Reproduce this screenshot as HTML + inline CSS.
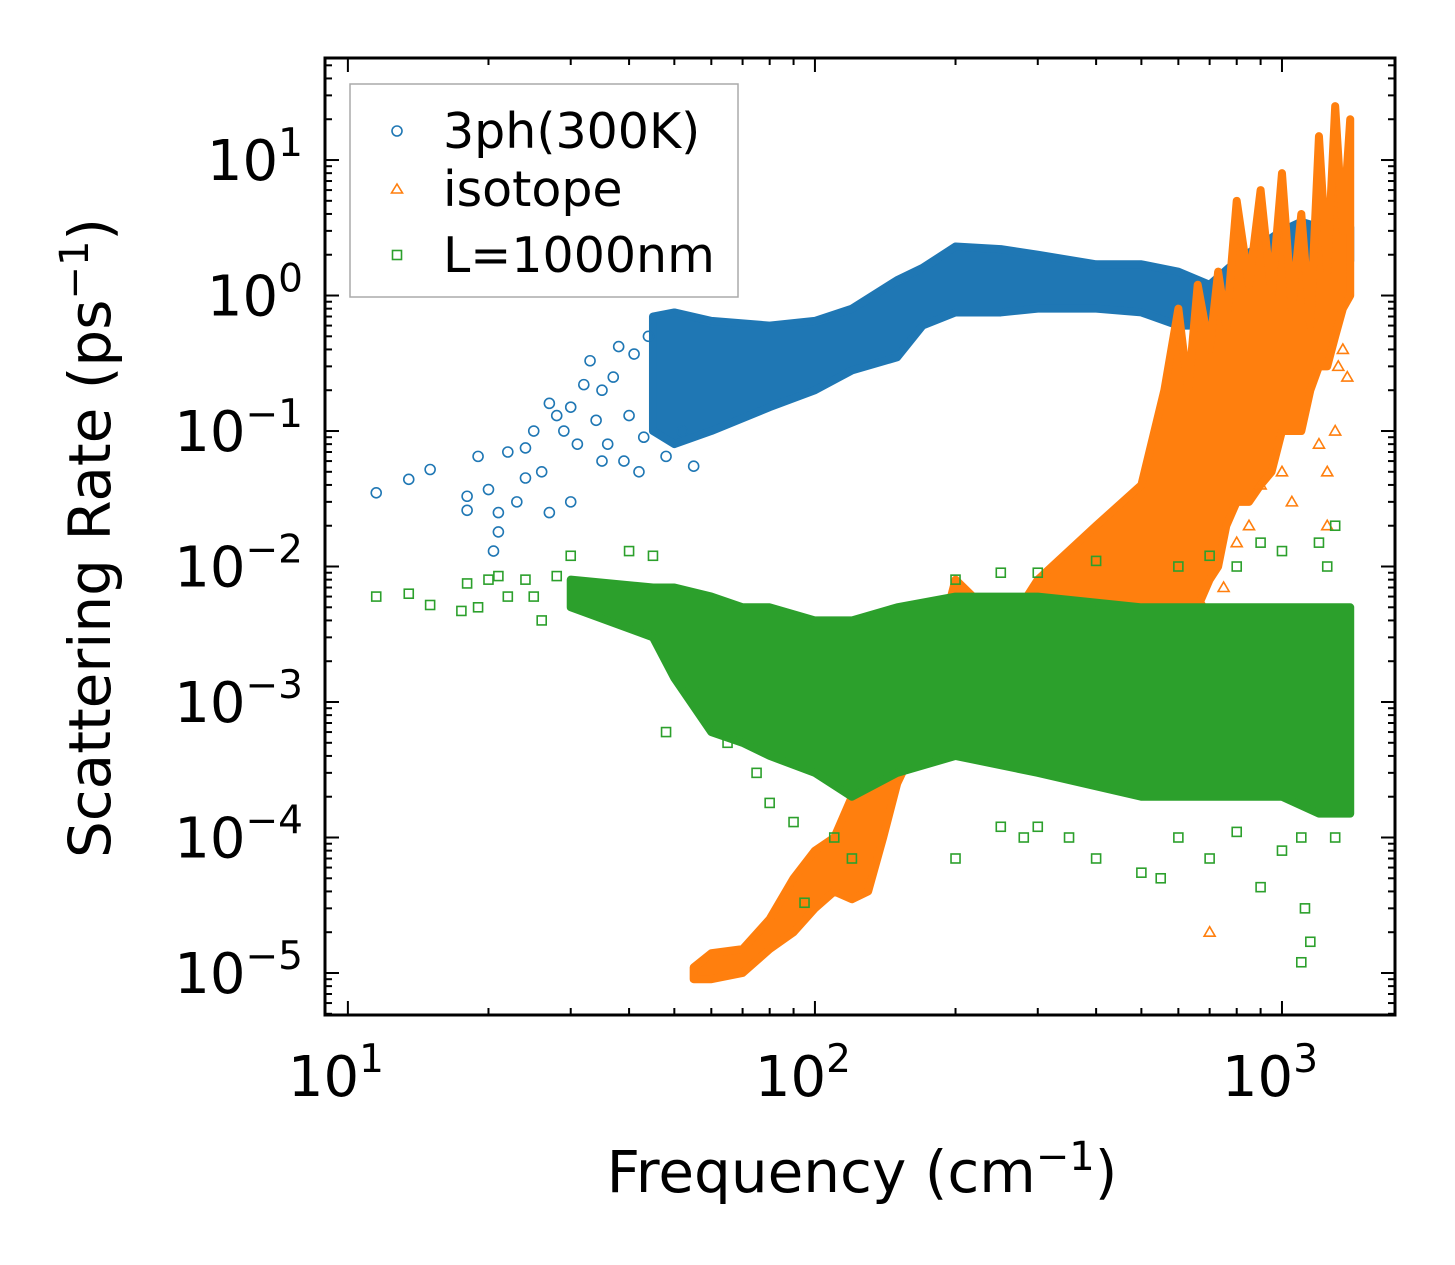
<!DOCTYPE html>
<html><head><meta charset="utf-8"><style>
html,body{margin:0;padding:0;background:#fff;}
svg{display:block;font-family:"DejaVu Sans","Liberation Sans",sans-serif;}
</style></head><body>
<svg id="chart" width="1455" height="1265" viewBox="0 0 1455 1265" xmlns="http://www.w3.org/2000/svg">
<rect width="1455" height="1265" fill="#fff"/>
<defs><clipPath id="pc"><rect x="325" y="58" width="1070" height="957"/></clipPath></defs>
<g id="marks" clip-path="url(#pc)"></g>
<g id="axes"></g>
<text transform="translate(110,538) rotate(-90)" text-anchor="middle" font-size="58">Scattering Rate (ps<tspan dy="-22" font-size="40">−1</tspan><tspan dy="22">)</tspan></text>
<text x="862" y="1192" text-anchor="middle" font-size="58">Frequency (cm<tspan dy="-22" font-size="40">−1</tspan><tspan dy="22">)</tspan></text>
<g>
<rect x="350" y="84" width="388" height="213" fill="#fff" stroke="#aaa" stroke-width="1.5"/>
<circle cx="397" cy="131" r="5" fill="none" stroke="#1f77b4" stroke-width="1.6"/>
<text x="443" y="148" font-size="49">3ph(300K)</text>
<polygon points="397,184 402.5,193 391.5,193" fill="none" stroke="#ff7f0e" stroke-width="1.6"/>
<text x="443" y="206" font-size="49">isotope</text>
<rect x="392.5" y="250.5" width="9" height="9" fill="none" stroke="#2ca02c" stroke-width="1.6"/>
<text x="443" y="272" font-size="49">L=1000nm</text>
</g>
</svg>
<script>
// ---- data ----
const blueX=[45,50,60,80,100,120,150,170,200,250,300,400,500,600,700,800,1000,1100,1200,1400];
const blueHi=[0.7,0.75,0.65,0.6,0.65,0.8,1.3,1.6,2.3,2.2,2.0,1.7,1.7,1.5,1.2,1.8,3.0,3.5,3.2,3.2];
const blueLo=[0.1,0.08,0.1,0.15,0.2,0.28,0.35,0.6,0.75,0.75,0.8,0.8,0.75,0.6,0.6,0.75,1.3,1.6,1.7,1.8];
const blueOutX=[11.5,13.5,15,18,18,19,20,20.5,21,21,22,23,24,24,25,26,27,27,28,29,30,30,31,32,33,34,35,36,37,38,39,40,41,42,43,44,48,55,52,35];
const blueOutY=[0.035,0.044,0.052,0.033,0.026,0.065,0.037,0.013,0.018,0.025,0.07,0.03,0.045,0.075,0.1,0.05,0.16,0.025,0.13,0.1,0.03,0.15,0.08,0.22,0.33,0.12,0.2,0.08,0.25,0.42,0.06,0.13,0.37,0.05,0.09,0.5,0.065,0.055,0.1,0.06];
const orX=[55,60,70,80,90,100,110,120,130,140,150,160,180,200,230,250,300,400,500,560,600,630,660,700,730,760,800,850,900,950,1000,1050,1100,1150,1200,1250,1300,1350,1400];
const orHi=[1.1e-5,1.4e-5,1.5e-5,2.5e-5,5e-5,8e-5,1e-4,2e-4,3e-4,5e-4,5e-4,1e-3,2e-3,8e-3,5e-3,3e-3,8e-3,2e-2,4e-2,0.2,0.8,0.2,1.2,0.4,1.5,0.6,5,1.2,6,1,8,0.8,4,0.6,15,1.5,25,3,20];
const orLo=[9e-6,9e-6,1e-5,1.5e-5,2e-5,3e-5,4e-5,3.5e-5,4e-5,1e-4,2.5e-4,4e-4,5e-4,5e-4,5e-4,5e-4,5e-4,5e-4,5e-4,1e-3,4e-3,5e-3,5e-3,8e-3,0.01,0.02,0.03,0.03,0.04,0.05,0.1,0.1,0.1,0.2,0.3,0.3,0.5,0.8,1];
const orOutX=[700,1320,1350,1380,1300,1250,1200,1000,1050,900,850,800,750,700,680,1250];
const orOutY=[2e-5,0.3,0.4,0.25,0.1,0.05,0.08,0.05,0.03,0.04,0.02,0.015,0.007,0.012,0.005,0.02];
const grX=[30,45,50,60,70,80,100,120,150,200,300,500,700,1000,1200,1400];
const grHi=[8e-3,7e-3,7e-3,6e-3,5e-3,5e-3,4e-3,4e-3,5e-3,6e-3,6e-3,5e-3,5e-3,5e-3,5e-3,5e-3];
const grLo=[5e-3,3e-3,1.5e-3,6e-4,5e-4,4e-4,3e-4,2e-4,3e-4,4e-4,3e-4,2e-4,2e-4,2e-4,1.5e-4,1.5e-4];
const grOutX=[11.5,13.5,15,17.5,18,19,20,21,22,24,25,26,28,30,40,45,48,48,55,65,75,80,90,95,110,120,200,250,280,300,350,400,500,550,600,700,800,900,1000,1100,1150,1120,1100,1200,1300,1250,1000,900,600,700,800,400,300,200,250,1350,1300];
const grOutY=[0.006,0.0063,0.0052,0.0047,0.0075,0.005,0.008,0.0085,0.006,0.008,0.006,0.004,0.0085,0.012,0.013,0.012,0.0045,0.0006,0.0014,0.0005,0.0003,0.00018,0.00013,0.000033,0.0001,0.00007,0.00007,0.00012,0.0001,0.00012,0.0001,0.00007,0.000055,0.00005,0.0001,0.00007,0.00011,0.000043,0.00008,0.000012,0.000017,0.00003,0.0001,0.015,0.02,0.01,0.013,0.015,0.01,0.012,0.01,0.011,0.009,0.008,0.009,0.0045,0.0001];
const xTickVals=[10,100,1000];
const xTickExp=["1","2","3"];
const yTickVals=[10,1,0.1,0.01,0.001,1e-4,1e-5];
const yTickExp=["1","0","−1","−2","−3","−4","−5"];
// ---- scales ----
const X0=325,X1=1395,Y0=58,Y1=1015;
const lxmin=0.951,lxmax=3.242,lymin=-5.31,lymax=1.753;
const xs=v=>X0+(Math.log10(v)-lxmin)/(lxmax-lxmin)*(X1-X0);
const ys=v=>Y1-(Math.log10(v)-lymin)/(lymax-lymin)*(Y1-Y0);
const NS="http://www.w3.org/2000/svg";
const marks=document.getElementById('marks'),axes=document.getElementById('axes');
function mk(tag,attrs,parent){const e=document.createElementNS(NS,tag);for(const k in attrs)e.setAttribute(k,attrs[k]);parent.appendChild(e);return e;}
function band(xa,hi,lo,color,name){
  const pts=xa.map((x,i)=>xs(x)+','+ys(hi[i])).concat(xa.map((x,i)=>xs(x)+','+ys(lo[i])).reverse());
  const p=mk('polygon',{points:pts.join(' '),fill:color,stroke:color,'stroke-width':8,'stroke-linejoin':'round'},marks);
  
  
}
function marker(type,x,y,color,name){
  const cx=xs(x),cy=ys(y);let e;
  if(type==='c')e=mk('circle',{cx,cy,r:5,fill:'none',stroke:color,'stroke-width':1.6},marks);
  else if(type==='t')e=mk('polygon',{points:`${cx},${cy-5.5} ${cx+5.5},${cy+4} ${cx-5.5},${cy+4}`,fill:'none',stroke:color,'stroke-width':1.6},marks);
  else e=mk('rect',{x:cx-4.5,y:cy-4.5,width:9,height:9,fill:'none',stroke:color,'stroke-width':1.6},marks);
  
  
}
band(blueX,blueHi,blueLo,'#1f77b4','3ph-band');
blueOutX.forEach((x,i)=>marker('c',x,blueOutY[i],'#1f77b4','3ph-point'));
band(orX,orHi,orLo,'#ff7f0e','isotope-band');
orOutX.forEach((x,i)=>marker('t',x,orOutY[i],'#ff7f0e','isotope-point'));
band(grX,grHi,grLo,'#2ca02c','boundary-band');
grOutX.forEach((x,i)=>marker('s',x,grOutY[i],'#2ca02c','boundary-point'));
// ---- axes ----
const frame=mk('rect',{x:X0,y:Y0,width:X1-X0,height:Y1-Y0,fill:'none',stroke:'#000','stroke-width':3},axes);


for(let d=1;d<=3;d++)for(let m=1;m<=9;m++){
  const v=m*Math.pow(10,d),x=xs(v);if(x<X0||x>X1)continue;const L=m===1?14:7;
  mk('line',{x1:x,y1:Y1,x2:x,y2:Y1-L,stroke:'#000','stroke-width':2},axes);
  mk('line',{x1:x,y1:Y0,x2:x,y2:Y0+L,stroke:'#000','stroke-width':2},axes);
}
for(let d=-6;d<=1;d++)for(let m=1;m<=9;m++){
  const v=m*Math.pow(10,d),y=ys(v);if(y<Y0||y>Y1)continue;const L=m===1?14:7;
  mk('line',{x1:X0,y1:y,x2:X0+L,y2:y,stroke:'#000','stroke-width':2},axes);
  mk('line',{x1:X1,y1:y,x2:X1-L,y2:y,stroke:'#000','stroke-width':2},axes);
}
xTickVals.forEach((v,i)=>{
  const t=mk('text',{x:xs(v)-12,y:1096,'text-anchor':'middle','font-size':56},axes);
  
  
  t.textContent='10';
  const s=mk('tspan',{dy:-24,'font-size':39},t);s.textContent=xTickExp[i];
});
yTickVals.forEach((v,i)=>{
  const t=mk('text',{x:303,y:ys(v)+20,'text-anchor':'end','font-size':56},axes);
  
  
  t.textContent='10';
  const s=mk('tspan',{dy:-24,'font-size':39},t);s.textContent=yTickExp[i];
});
</script>
</body></html>
